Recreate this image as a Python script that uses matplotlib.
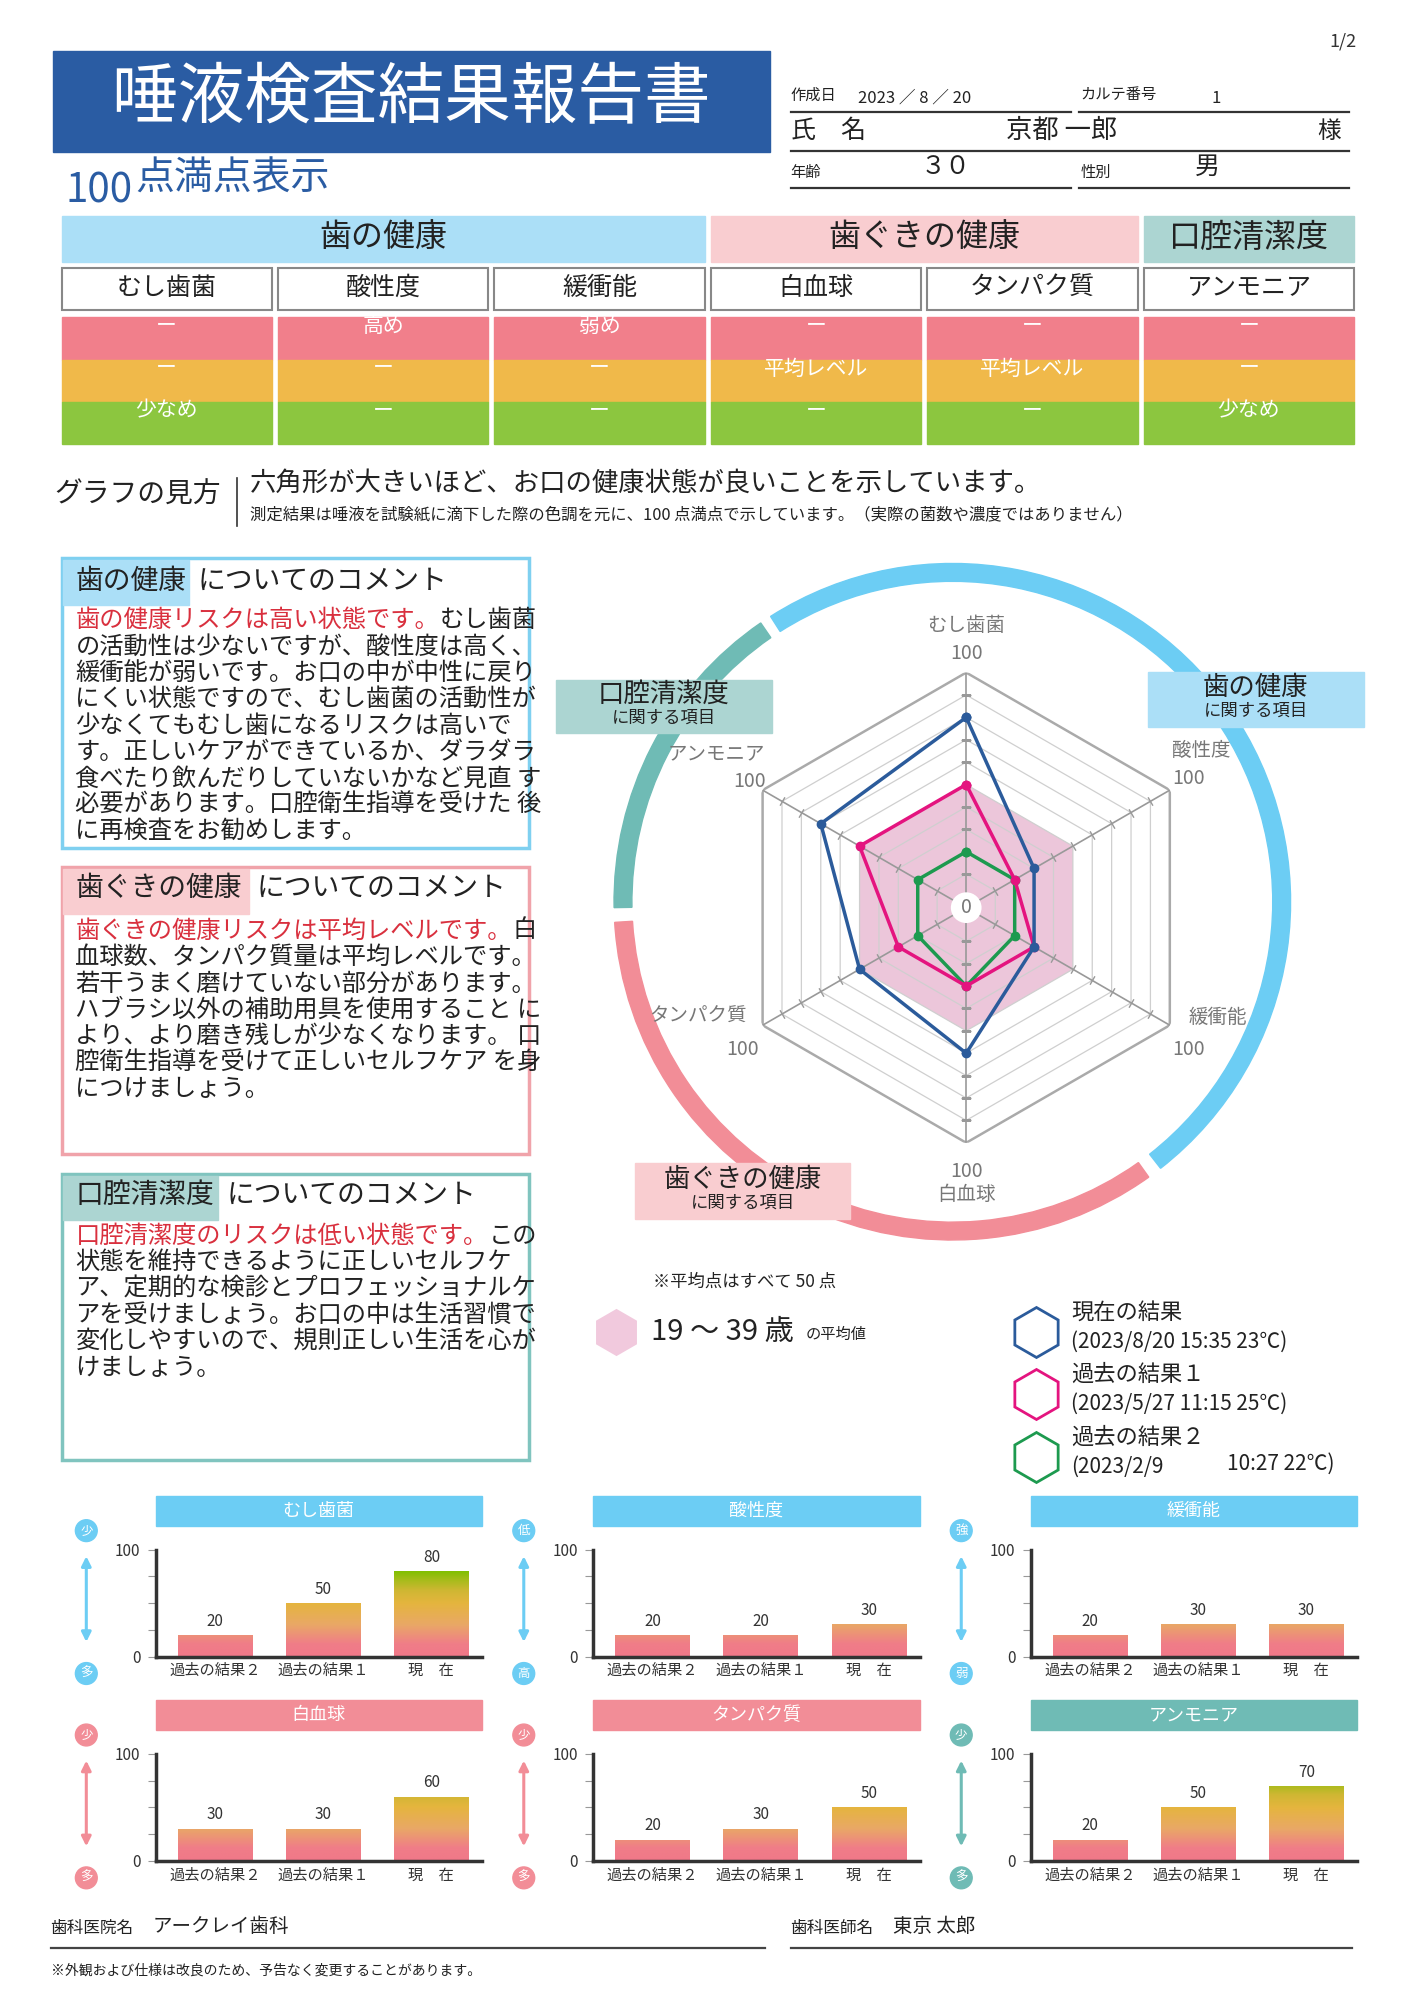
import matplotlib.pyplot as plt
import numpy as np
from matplotlib.patches import Rectangle, Wedge, Circle
from matplotlib.colors import LinearSegmentedColormap

plt.rcParams['font.family'] = ['Noto Sans CJK JP', 'DejaVu Sans']

W, H = 1414, 2000
S = 0.992  # page units -> pixels

# ---- data ----
items = ['むし歯菌', '酸性度', '緩衝能', '白血球', 'タンパク質', 'アンモニア']
current = [80, 30, 30, 60, 50, 70]
past1 = [50, 20, 30, 30, 30, 50]
past2 = [20, 20, 20, 30, 20, 20]
average = [50, 50, 50, 50, 50, 50]
bar_labels = ['過去の結果２', '過去の結果１', '現　在']

groups = ['歯の健康', '歯ぐきの健康', '口腔清潔度']
group_span = [3, 2, 1]
risk_high = ['ー', '高め', '弱め', 'ー', 'ー', 'ー']
risk_mid = ['ー', 'ー', 'ー', '平均レベル', '平均レベル', 'ー']
risk_low = ['少なめ', 'ー', 'ー', 'ー', 'ー', '少なめ']

arrow_top = ['少', '低', '強', '少', '少', '少']
arrow_bottom = ['多', '高', '弱', '多', '多', '多']

comment_red = ['歯の健康リスクは高い状態です。',
               '歯ぐきの健康リスクは平均レベルです。',
               '口腔清潔度のリスクは低い状態です。']
comment_lines = [
    ['むし歯菌',
     'の活動性は少ないですが、酸性度は高く、',
     '緩衝能が弱いです。お口の中が中性に戻り',
     'にくい状態ですので、むし歯菌の活動性が',
     '少なくてもむし歯になるリスクは高いで',
     'す。正しいケアができているか、ダラダラ',
     '食べたり飲んだりしていないかなど見直 す',
     '必要があります。口腔衛生指導を受けた 後',
     'に再検査をお勧めします。'],
    ['白',
     '血球数、タンパク質量は平均レベルです。',
     '若干うまく磨けていない部分があります。',
     'ハブラシ以外の補助用具を使用すること に',
     'より、より磨き残しが少なくなります。 口',
     '腔衛生指導を受けて正しいセルフケア を身',
     'につけましょう。'],
    ['この',
     '状態を維持できるように正しいセルフケ',
     'ア、定期的な検診とプロフェッショナルケ',
     'アを受けましょう。お口の中は生活習慣で',
     '変化しやすいので、規則正しい生活を心が',
     'けましょう。'],
]

legend_names = ['現在の結果', '過去の結果１', '過去の結果２']
legend_dates = ['(2023/8/20 15:35 23℃)', '(2023/5/27 11:15 25℃)', '(2023/2/9']

# ---- colours ----
NAVY = '#2a5ca3'
BLUE_HDR, PINK_HDR, TEAL_HDR = '#abdff7', '#f9cdd0', '#acd5d2'
BLUE, PINK, TEAL = '#6ccdf4', '#f28d97', '#6fbbb5'
group_hdr = [BLUE_HDR, PINK_HDR, TEAL_HDR]
item_colors = [BLUE, BLUE, BLUE, PINK, PINK, TEAL]
risk_colors = ['#f17f8b', '#f0b94a', '#8cc63f']
box_border = ['#7fd0f0', '#f0a3aa', '#80c4bf']
line_colors = ['#2b5b9b', '#e4147f', '#1d9a4f']
TXT = '#222222'

fig = plt.figure(figsize=(W / 100, H / 100), dpi=100)
page = fig.add_axes([0, 0, 1, 1])
page.set_xlim(0, W / S)
page.set_ylim(H / S, 0)
page.axis('off')


def add_px_axes(left, top, w, h, **kw):
    # axes placed in page units (top-left origin)
    return fig.add_axes([left * S / W, 1 - (top + h) * S / H, w * S / W, h * S / H], **kw)


# ---- header ----
page.text(1354, 42, '1/2', ha='center', va='center', fontsize=13, color='#333')
page.add_patch(Rectangle((53, 51), 723, 102, color=NAVY))
page.text(414, 100, '唾液検査結果報告書', ha='center', va='center', fontsize=48, color='white')
page.text(66, 193, '100', ha='left', va='center', fontsize=29, color=NAVY)
page.text(136, 180, '点満点表示', ha='left', va='center', fontsize=28, color=NAVY)

page.text(797, 96, '作成日', va='center', fontsize=11, color=TXT)
page.text(865, 99, '2023 ／ 8 ／ 20', va='center', fontsize=12, color=TXT)
page.text(1089, 95, 'カルテ番号', va='center', fontsize=11, color=TXT)
page.text(1221, 99, '1', va='center', fontsize=12, color=TXT)
page.text(797, 132, '氏　名', va='center', fontsize=18, color=TXT)
page.text(1014, 131, '京都 一郎', va='center', fontsize=19, color=TXT)
page.text(1328, 133, '様', va='center', fontsize=17, color=TXT)
page.text(797, 174, '年齢', va='center', fontsize=11, color=TXT)
page.text(928, 168, '３０', va='center', fontsize=18, color=TXT)
page.text(1089, 174, '性別', va='center', fontsize=11, color=TXT)
page.text(1205, 168, '男', va='center', fontsize=18, color=TXT)
for y, segs in [(113, [(797, 1080), (1088, 1360)]), (152, [(797, 1360)]),
                (190, [(797, 1080), (1088, 1360)])]:
    for x0, x1 in segs:
        page.plot([x0, x1], [y, y], color='#333', lw=1.6)

# ---- result table ----
col_left = [62 + i * 218.2 for i in range(6)]
col_w = 212
start = 0
for g, span, c in zip(groups, group_span, group_hdr):
    x0 = col_left[start]
    x1 = col_left[start + span - 1] + col_w
    page.add_patch(Rectangle((x0, 218), x1 - x0, 46, color=c))
    page.text((x0 + x1) / 2, 240, g, ha='center', va='center', fontsize=23, color=TXT)
    start += span
for i, it in enumerate(items):
    page.add_patch(Rectangle((col_left[i], 270), col_w, 42, fc='white', ec='#888', lw=1.5))
    page.text(col_left[i] + col_w / 2, 290, it, ha='center', va='center', fontsize=18, color=TXT)
    for k, (row, rc) in enumerate(zip([risk_high, risk_mid, risk_low], risk_colors)):
        y0 = 320 + k * 42.5
        page.add_patch(Rectangle((col_left[i], y0), col_w, 42.5, color=rc))
        page.text(col_left[i] + col_w / 2, y0 + 9, row[i], ha='center', va='center',
                  fontsize=15, color='white')

# ---- how to read ----
page.text(55, 499, 'グラフの見方', va='center', fontsize=20, color=TXT)
page.plot([239, 239], [482, 530], color='#333', lw=1.2)
page.text(252, 487, '六角形が大きいほど、お口の健康状態が良いことを示しています。',
          va='center', fontsize=19, color=TXT)
page.text(252, 519, '測定結果は唾液を試験紙に滴下した際の色調を元に、100 点満点で示しています。（実際の菌数や濃度ではありません）',
          va='center', fontsize=11.8, color=TXT)

# ---- comment boxes ----
box_top = [563, 874, 1183]
box_h = [292, 289, 289]
label_w = [127, 187, 156]
head_y = [586, 895, 1205]
first_line = [625, 938, 1246]
fs_body = 17.5
em = fs_body * 100 / 72 / S
for b in range(3):
    page.add_patch(Rectangle((62, box_top[b]), 471, box_h[b], fc='white', ec=box_border[b], lw=2.5))
    page.add_patch(Rectangle((64, box_top[b] + 2), label_w[b], 45, color=group_hdr[b]))
    page.text(76, head_y[b], groups[b], va='center', fontsize=20, color=TXT)
    page.text(72 + label_w[b], head_y[b], 'についてのコメント', va='center', fontsize=20, color=TXT)
    for j, line in enumerate(comment_lines[b]):
        y = first_line[b] + j * 26.6
        if j == 0:
            page.text(76, y, comment_red[b], va='center', fontsize=fs_body, color='#d9303e')
            page.text(76 + len(comment_red[b]) * em, y, line, va='center', fontsize=fs_body, color=TXT)
        else:
            page.text(76, y, line, va='center', fontsize=fs_body, color=TXT)

# ---- ring around radar ----
rc_, R = (960, 909), 341
for t1, t2, c in [(-122.5, 52, BLUE), (-181, -124.5, TEAL), (-305.5, -183.5, PINK)]:
    page.add_patch(Wedge(rc_, R, t1, t2, width=18, color=c, zorder=1))
for (x0, y0, w, h), c, g, ty in [((1157, 677, 218, 56), BLUE_HDR, '歯の健康', 693),
                                 ((560, 685, 218, 54), TEAL_HDR, '口腔清潔度', 700),
                                 ((640, 1172, 217, 57), PINK_HDR, '歯ぐきの健康', 1189)]:
    page.add_patch(Rectangle((x0, y0), w, h, color=c, zorder=3))
    page.text(x0 + w / 2, ty, g, ha='center', va='center', fontsize=19, color=TXT, zorder=4)
    page.text(x0 + w / 2, ty + 23, 'に関する項目', ha='center', va='center', fontsize=12.5, color=TXT, zorder=4)

label_pos = [((974, 631), (974, 659)), ((1211, 756), (1198, 785)), ((1228, 1026), (1198, 1058)),
             ((974, 1204), (974, 1181)), ((704, 1025), (749, 1058)), ((722, 760), (756, 788))]
for it, (p_name, p_100) in zip(items, label_pos):
    page.text(*p_name, it, ha='center', va='center', fontsize=14, color='#777')
    page.text(*p_100, '100', ha='center', va='center', fontsize=14, color='#777')

# ---- radar ----
rad = add_px_axes(974 - 237, 915 - 237, 474, 474, projection='polar')
rad.set_theta_zero_location('N')
rad.set_theta_direction(-1)
rad.axis('off')
angles = np.deg2rad(np.arange(6) * 60)
closed = np.append(angles, angles[0])


def close(v):
    return np.append(v, v[0])


rad.fill(closed, close(average), color='#ecc6da', lw=0, zorder=1)
for r in range(0, 101, 10):
    rad.plot(closed, [r] * 7, color='#aaaaaa' if r == 100 else '#cfcfcf',
             lw=1.8 if r == 100 else 0.9, zorder=2)
for k, a in enumerate(angles):
    rad.plot([a, a], [-5, 100], color='#999999', lw=1.2, zorder=2)
    rad.plot([a] * 9, np.arange(10, 100, 10), ls='none', marker=(2, 0, 90 - 60 * k),
             ms=7, mew=1, color='#999999', zorder=2)
for vals, c in zip([past2, past1, current], line_colors[::-1]):
    rad.plot(closed, close(vals), color=c, lw=2.5, marker='o', ms=6, zorder=3)
rad.text(0, -5, '0', ha='center', va='center', fontsize=14, color='#777', zorder=4,
         bbox=dict(boxstyle='circle,pad=0.25', fc='white', ec='none'))
rad.set_ylim(-5, 100)

# ---- legend ----
page.text(658, 1292, '※平均点はすべて 50 点', va='center', fontsize=12.5, color=TXT)
page.plot([621], [1343], marker='h', ms=34, color='#f1c9dd', mec='none')
page.text(656, 1343, '19 〜 39 歳', va='center', fontsize=21, color=TXT)
page.text(812, 1345, 'の平均値', va='center', fontsize=11, color=TXT)
for k, (nm, dt, c) in enumerate(zip(legend_names, legend_dates, line_colors)):
    yc = [1343, 1405, 1469][k]
    page.plot([1044], [yc], marker='h', ms=36, mfc='none', mec=c, mew=2)
    page.text(1080, yc - 20, nm, va='center', fontsize=16, color=TXT)
    page.text(1080, yc + 10, dt, va='center', fontsize=15, color=TXT)
page.text(1237, 1476, '10:27 22℃)', va='center', fontsize=15, color=TXT)

# ---- bar charts ----
cmap = LinearSegmentedColormap.from_list('score', [(0, '#f07888'), (0.12, '#f07d88'), (0.3, '#e9a866'),
                                                   (0.5, '#e5b53e'), (0.62, '#cfb733'),
                                                   (0.72, '#a5bc1a'), (0.8, '#80c000'), (1, '#70bb00')])
grad = np.linspace(0, 100, 256).reshape(-1, 1)
for i, it in enumerate(items):
    r, c = divmod(i, 3)
    left = [157, 598, 1039][c]
    top = [1562, 1768][r]
    col = item_colors[i]
    page.add_patch(Rectangle((left, top - 54), 329, 30, color=col))
    page.text(left + 164, top - 39, it, ha='center', va='center', fontsize=13, color='white')
    ax_x = left - 70
    page.add_patch(Circle((ax_x, top - 19), 11, color=col))
    page.text(ax_x, top - 19, arrow_top[i], ha='center', va='center', fontsize=9, color='white')
    page.add_patch(Circle((ax_x, top + 125), 11, color=col))
    page.text(ax_x, top + 125, arrow_bottom[i], ha='center', va='center', fontsize=9, color='white')
    page.annotate('', xy=(ax_x, top + 96), xytext=(ax_x, top + 4),
                  arrowprops=dict(arrowstyle='<|-|>', color=col, lw=2.2, mutation_scale=14))

    ax = add_px_axes(left, top, 329, 108)
    vals = [past2[i], past1[i], current[i]]
    bars = ax.bar(range(3), vals, width=0.69, color='none', lw=0)
    for b, v in zip(bars, vals):
        im = ax.imshow(grad, extent=(b.get_x(), b.get_x() + b.get_width(), 0, 100), origin='lower',
                       cmap=cmap, vmin=0, vmax=100, aspect='auto', zorder=2)
        im.set_clip_path(b)
        ax.text(b.get_x() + b.get_width() / 2, v + 5, str(v), ha='center', va='bottom',
                fontsize=11, color='#333')
    ax.set_xlim(-0.55, 2.47)
    ax.set_ylim(0, 100)
    ax.set_facecolor('none')
    for s in ['top', 'right']:
        ax.spines[s].set_visible(False)
    for s in ['left', 'bottom']:
        ax.spines[s].set_color('#333')
        ax.spines[s].set_linewidth(2.5)
    ax.set_yticks([0, 25, 50, 75, 100])
    ax.set_yticklabels(['0', '', '', '', '100'])
    ax.tick_params(axis='y', length=6, color='#999', labelsize=11, labelcolor='#333', pad=5)
    ax.set_xticks(range(3))
    ax.set_xticklabels(bar_labels)
    ax.tick_params(axis='x', length=0, labelsize=11, labelcolor='#333', pad=4)

# ---- footer ----
page.text(51, 1944, '歯科医院名', va='center', fontsize=12, color=TXT)
page.text(154, 1942, 'アークレイ歯科', va='center', fontsize=14, color=TXT)
page.plot([51, 771], [1964, 1964], color='#444', lw=1.6)
page.text(797, 1944, '歯科医師名', va='center', fontsize=12, color=TXT)
page.text(900, 1942, '東京 太郎', va='center', fontsize=14, color=TXT)
page.plot([797, 1363], [1964, 1964], color='#444', lw=1.6)
page.text(51, 1986, '※外観および仕様は改良のため、予告なく変更することがあります。', va='center',
          fontsize=10, color=TXT)

fig.savefig('out.png', dpi=100)
